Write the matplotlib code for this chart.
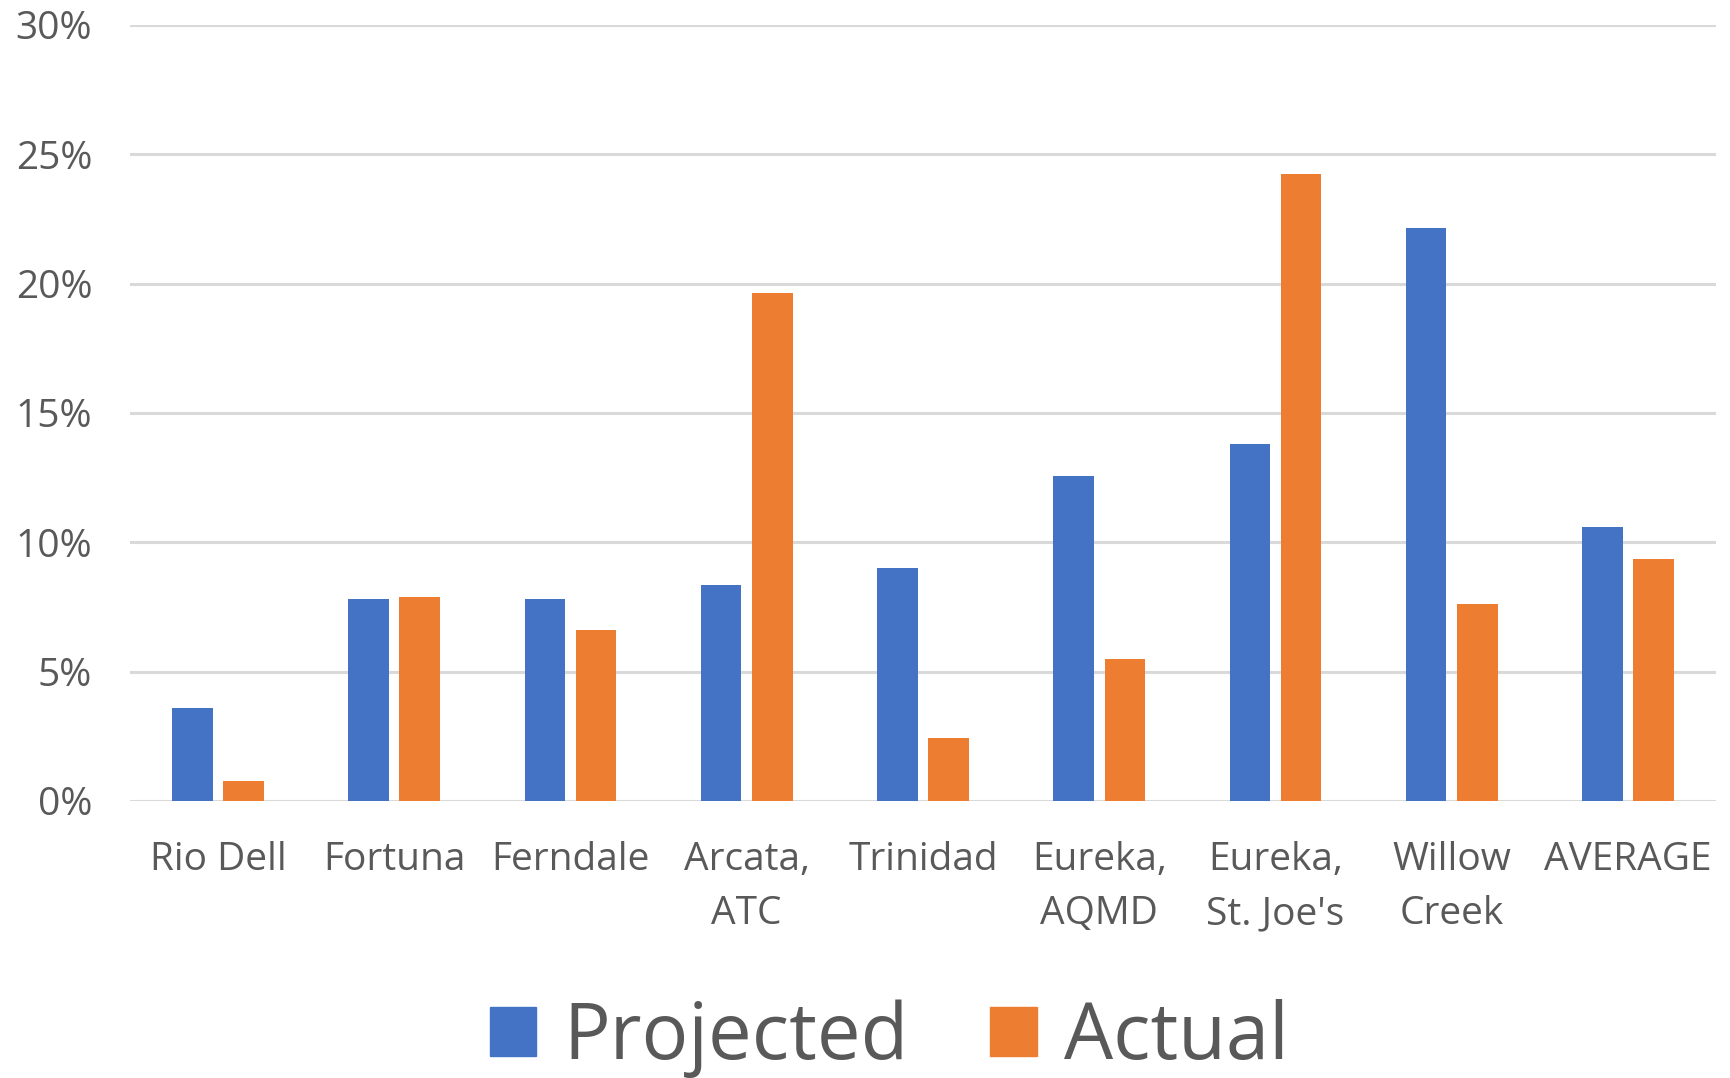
import numpy as np
import matplotlib
matplotlib.use("Agg")
import matplotlib.pyplot as plt
from matplotlib.ticker import PercentFormatter
from matplotlib.patches import Patch

plt.rcParams['font.family'] = ['Open Sans', 'DejaVu Sans']

# data (percent)
sites = ["Rio Dell", "Fortuna", "Ferndale", "Arcata,\nATC", "Trinidad",
         "Eureka,\nAQMD", "Eureka,\nSt. Joe's", "Willow\nCreek", "AVERAGE"]
projected = [3.6, 7.8, 7.8, 8.35, 9.0, 12.55, 13.8, 22.15, 10.6]
actual = [0.78, 7.9, 6.6, 19.65, 2.45, 5.5, 24.25, 7.6, 9.35]

blue = "#4472C4"
orange = "#ED7D31"
txt = "#595959"

fig = plt.figure(figsize=(17.3, 10.78), dpi=100)
ax = fig.add_axes([0.075, 0.257, 0.917, 0.72])

x = np.arange(len(sites))
w = 0.23
off = 0.145
ax.bar(x - off, projected, w, color=blue, zorder=3)
ax.bar(x + off, actual, w, color=orange, zorder=3)

ax.set_xlim(-0.5, len(sites) - 0.5)
ax.set_ylim(0, 30)
ax.set_yticks(np.arange(0, 31, 5))
ax.yaxis.set_major_formatter(PercentFormatter(decimals=0))
ax.set_xticks(x)
ax.set_xticklabels(sites, linespacing=1.55)

for s in ax.spines.values():
    s.set_visible(False)
ax.grid(axis="y", color="#D9D9D9", linewidth=2.2, zorder=0)
ax.tick_params(axis="both", length=0, labelsize=28, labelcolor=txt)
ax.tick_params(axis="y", pad=27)
ax.tick_params(axis="x", pad=29)

handles = [Patch(color=blue, label="Projected"), Patch(color=orange, label="Actual")]
fig.legend(handles=handles, loc="center", bbox_to_anchor=(0.514, 0.037), ncol=2,
           frameon=False, fontsize=56, labelcolor=txt, handlelength=0.6,
           handleheight=0.6, handletextpad=0.35, columnspacing=1.05)

fig.savefig("out.png", dpi=100, facecolor="white")
